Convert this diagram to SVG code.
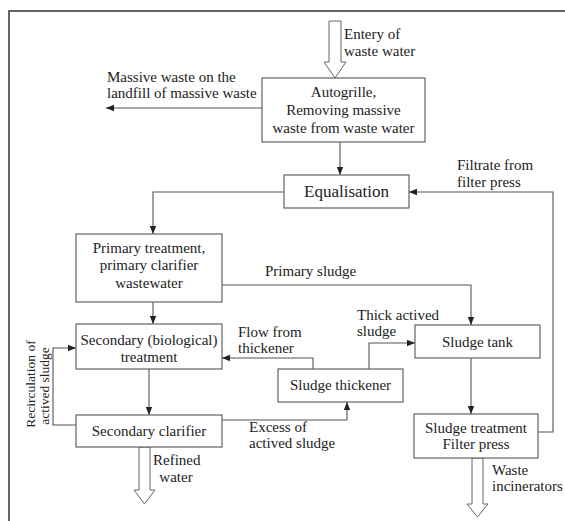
<svg xmlns="http://www.w3.org/2000/svg" width="565" height="521" viewBox="0 0 565 521">
<defs>
<marker id="ah" markerUnits="userSpaceOnUse" markerWidth="8" markerHeight="8" viewBox="0 0 8 8" refX="8" refY="4" orient="auto">
<path d="M0,0.8 L8,4 L0,7.2 Z" fill="#222"/>
</marker>
</defs>
<style>
.box{fill:#fff;stroke:#555;stroke-width:1.1}
.t{font-family:"Liberation Serif","Times New Roman",serif;font-size:15px;fill:#222}
.c{text-anchor:middle}
.r{font-size:13.5px}
.ln{fill:none;stroke:#555;stroke-width:1.1}
.hol{fill:#fff;stroke:#666;stroke-width:1}
</style>
<rect width="565" height="521" fill="#fff"/>
<path d="M9,521 V11 H565" fill="none" stroke="#333" stroke-width="1.5"/>

<g id="connectors">
<path class="ln" d="M262,108 H106" marker-end="url(#ah)"/>
<path class="ln" d="M340,142 V175" marker-end="url(#ah)"/>
<path class="ln" d="M538,432 H553 V192 H409" marker-end="url(#ah)"/>
<path class="ln" d="M284,192 H153 V234" marker-end="url(#ah)"/>
<path class="ln" d="M222,285 H471 V325" marker-end="url(#ah)"/>
<path class="ln" d="M153,302 V324" marker-end="url(#ah)"/>
<path class="ln" d="M149,369 V415" marker-end="url(#ah)"/>
<path class="ln" d="M76,425 H53 V348 H76" marker-end="url(#ah)"/>
<path class="ln" d="M222,420 H347 V402" marker-end="url(#ah)"/>
<path class="ln" d="M313,369 V358 H222" marker-end="url(#ah)"/>
<path class="ln" d="M369,369 V343 H415" marker-end="url(#ah)"/>
<path class="ln" d="M471,358 V414" marker-end="url(#ah)"/>
<polygon class="hol" points="329,21 341,21 341,62 346,62 335,78 324,62 329,62"/>
<polygon class="hol" points="139,447 150,447 150,490 155,490 144.5,504 134,490 139,490"/>
<polygon class="hol" points="472,458 483,458 483,504 488,504 477.5,517 467,504 472,504"/>
<text class="t" x="344" y="39">Entery of</text>
<text class="t" x="344" y="56">waste water</text>
<text class="t" x="107" y="82">Massive waste on the</text>
<text class="t" x="107" y="98">landfill of massive waste</text>
<text class="t" x="457" y="170">Filtrate from</text>
<text class="t" x="457" y="187">filter press</text>
<text class="t" x="265" y="276">Primary sludge</text>
<text class="t" x="238" y="337">Flow from</text>
<text class="t" x="238" y="353">thickener</text>
<text class="t" x="357" y="320">Thick actived</text>
<text class="t" x="357" y="336">sludge</text>
<text class="t" x="249" y="432">Excess of</text>
<text class="t" x="249" y="448">actived sludge</text>
<text class="t" x="153" y="465">Refined</text>
<text class="t c" x="176" y="482">water</text>
<text class="t" x="492" y="475">Waste</text>
<text class="t" x="492" y="491">incinerators</text>
<text class="t r c" transform="translate(35,384) rotate(-90)">Recirculation of</text>
<text class="t r c" transform="translate(49,386) rotate(-90)">actived sludge</text>
</g>

<g id="autogrille">
<rect class="box" x="262" y="78" width="163" height="64"/>
<text class="t c" x="343.5" y="97">Autogrille,</text>
<text class="t c" x="343.5" y="115">Removing massive</text>
<text class="t c" x="343.5" y="133">waste from waste water</text>
</g>
<g id="equalisation">
<rect class="box" x="284" y="175" width="125" height="33"/>
<text class="t c" x="346.5" y="197" style="font-size:17px">Equalisation</text>
</g>
<g id="primary">
<rect class="box" x="76" y="234" width="146" height="68"/>
<text class="t c" x="149" y="253">Primary treatment,</text>
<text class="t c" x="149" y="270">primary clarifier</text>
<text class="t c" x="149" y="288">wastewater</text>
</g>
<g id="secondary">
<rect class="box" x="76" y="324" width="146" height="45"/>
<text class="t c" x="149" y="345">Secondary (biological)</text>
<text class="t c" x="149" y="362">treatment</text>
</g>
<g id="clarifier">
<rect class="box" x="76" y="415" width="146" height="32"/>
<text class="t c" x="149" y="436">Secondary clarifier</text>
</g>
<g id="thickener">
<rect class="box" x="278" y="369" width="125" height="33"/>
<text class="t c" x="340.5" y="390">Sludge thickener</text>
</g>
<g id="sludgetank">
<rect class="box" x="415" y="325" width="125" height="33"/>
<text class="t c" x="477.5" y="347">Sludge tank</text>
</g>
<g id="treatment">
<rect class="box" x="414" y="414" width="124" height="44"/>
<text class="t c" x="476" y="433">Sludge treatment</text>
<text class="t c" x="476" y="449">Filter press</text>
</g>
</svg>
